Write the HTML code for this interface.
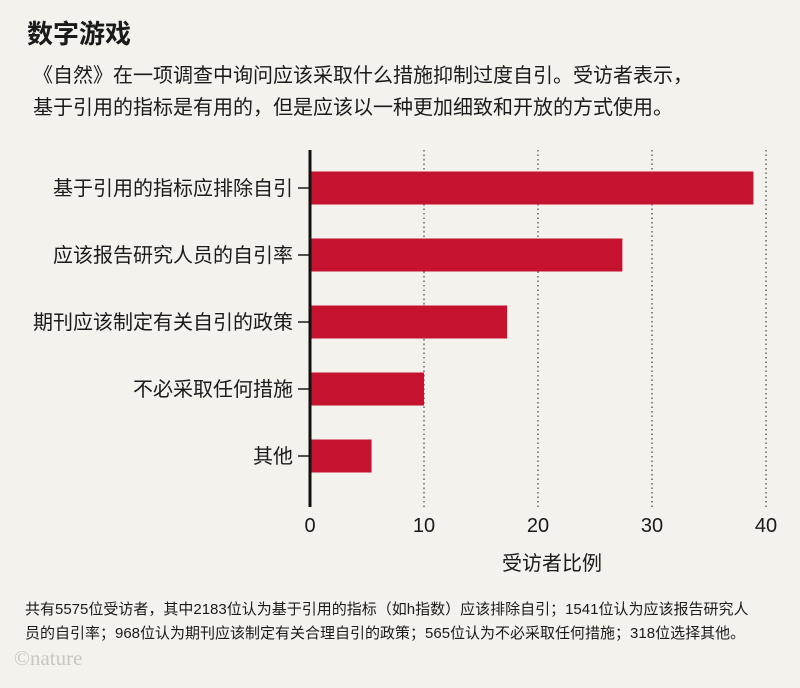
<!DOCTYPE html>
<html><head><meta charset="utf-8"><style>
body{margin:0;width:800px;height:688px;background:#f4f2ed;font-family:"Liberation Sans","Noto Sans CJK SC",sans-serif;color:#1a1a1a;position:relative;overflow:hidden}
.t{position:absolute;white-space:nowrap}
</style></head><body>
<div class="t" style="left:27px;top:14px;font-size:26px;font-weight:bold">数字游戏</div>
<div class="t" style="left:33px;top:60px;font-size:20px;line-height:32px">《自然》在一项调查中询问应该采取什么措施抑制过度自引。受访者表示，<br>基于引用的指标是有用的，但是应该以一种更加细致和开放的方式使用。</div>
<svg id="chart" width="800" height="688" style="position:absolute;left:0;top:0"></svg>
<div class="t" style="left:25px;top:598px;font-size:15px;line-height:24px">共有5575位受访者，其中2183位认为基于引用的指标（如h指数）应该排除自引；1541位认为应该报告研究人<br>员的自引率；968位认为期刊应该制定有关合理自引的政策；565位认为不必采取任何措施；318位选择其他。</div>
<div class="t" style="left:14px;top:646px;font-size:21px;color:#c9c7c2;font-family:'Liberation Serif',serif">©nature</div>
<script>
const categories=["基于引用的指标应排除自引","应该报告研究人员的自引率","期刊应该制定有关自引的政策","不必采取任何措施","其他"];
const values=[38.9,27.4,17.3,10.0,5.4];
const ticks=[0,10,20,30,40];
const svg=document.getElementById('chart');
const NS='http://www.w3.org/2000/svg';
const x0=310,x1=766,xmax=40,yTop=150,yBottom=507,firstC=188,step=67,bh=33;
const xs=v=>x0+(v/xmax)*(x1-x0);
const yc=i=>firstC+i*step;
function mk(t,a){const e=document.createElementNS(NS,t);for(const k in a)e.setAttribute(k,a[k]);svg.appendChild(e);return e;}
ticks.forEach((t,i)=>{
 if(t>0){const g=mk('line',{x1:xs(t),x2:xs(t),y1:yTop,y2:yBottom,stroke:'#444','stroke-width':1.2,'stroke-dasharray':'1.5,3'});
 
 }
 const l=mk('text',{x:xs(t),y:532,'text-anchor':'middle','font-size':20,fill:'#1a1a1a'});
 l.textContent=t;
 
 
});
categories.forEach((c,i)=>{
 const r=mk('rect',{x:x0,y:yc(i)-bh/2,width:xs(values[i])-x0,height:bh,fill:'#c5122e'});
 
 
 const tk=mk('line',{x1:298,x2:x0,y1:yc(i),y2:yc(i),stroke:'#1a1a1a','stroke-width':1.5});
 
 
 const l=mk('text',{x:293,y:yc(i)+7,'text-anchor':'end','font-size':20,fill:'#1a1a1a'});
 l.textContent=c;
 
 
});
const ax=mk('line',{x1:x0,x2:x0,y1:yTop,y2:yBottom,stroke:'#111','stroke-width':3});


const tt=mk('text',{x:552,y:570,'text-anchor':'middle','font-size':20,fill:'#1a1a1a'});
tt.textContent='受访者比例';


</script>
</body></html>
